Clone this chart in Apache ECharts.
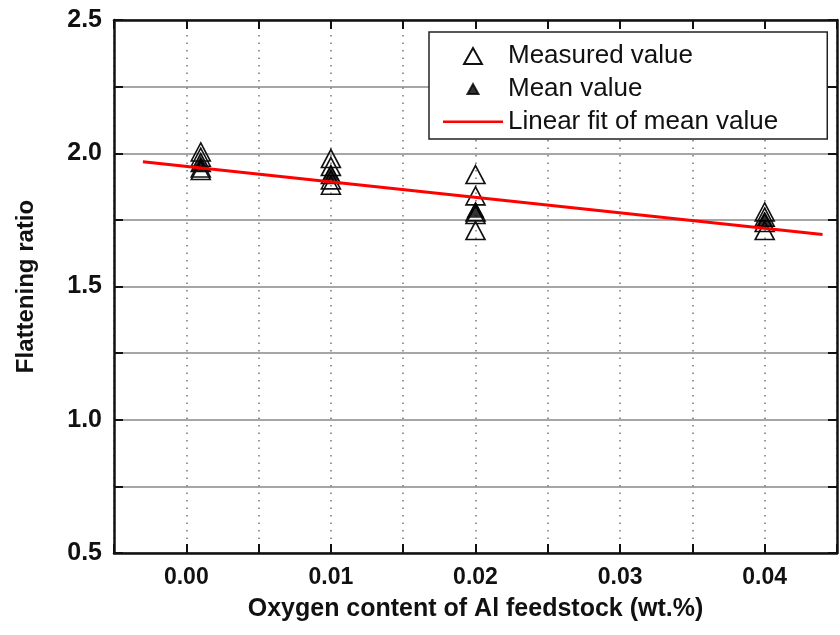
<!DOCTYPE html>
<html>
<head>
<meta charset="utf-8">
<script src="https://cdn.jsdelivr.net/npm/echarts@6/dist/echarts.min.js"></script>
<style>
html,body{margin:0;padding:0;background:#fff;}
#chart{width:840px;height:635px;}
</style>
</head>
<body>
<div id="chart"></div>
<script>
// Measured values (hollow triangles)
const measuredX = [0.001, 0.001, 0.001, 0.001, 0.001,
                   0.01, 0.01, 0.01, 0.01, 0.01,
                   0.02, 0.02, 0.02, 0.02, 0.02,
                   0.04, 0.04, 0.04, 0.04];
const measuredY = [2.005, 1.985, 1.965, 1.945, 1.935,
                   1.98, 1.95, 1.92, 1.90, 1.88,
                   1.92, 1.84, 1.78, 1.77, 1.71,
                   1.78, 1.76, 1.74, 1.71];
// Mean values (filled triangles)
const meanX = [0.001, 0.01, 0.02, 0.04];
const meanY = [1.962, 1.926, 1.787, 1.752];
// Linear fit of mean value (end points)
const fitX = [-0.003, 0.044];
const fitY = [1.968, 1.695];

const legendNames = ['Measured value', 'Mean value', 'Linear fit of mean value'];
const xTitle = 'Oxygen content of Al feedstock (wt.%)';
const yTitle = 'Flattening ratio';

const FONT = '"Liberation Sans", Arial, Helvetica, sans-serif';

const chart = echarts.init(document.getElementById('chart'), null, {renderer: 'canvas'});

function zip(a, b) { return a.map((v, i) => [v, b[i]]); }

const xLabelFmt = v => {
  const k = v * 100;
  return Math.abs(k - Math.round(k)) < 1e-6 ? v.toFixed(2) : '';
};
const yLabelFmt = v => {
  const k = v * 2;
  return Math.abs(k - Math.round(k)) < 1e-6 ? v.toFixed(1) : '';
};

const axisLineStyle = {color: '#111', width: 2.5};
const tickStyle = {color: '#111', width: 2};

const option = {
  backgroundColor: '#fff',
  animation: false,
  grid: {left: 114, right: 2, top: 20, bottom: 82, containLabel: false},
  legend: {
    data: [
      {name: legendNames[0], icon: 'path://M0,0M60,0M60,16M0,16M20.5,16.5L30,-0.5L39.5,16.5Z'},
      {name: legendNames[1], icon: 'path://M0,0M60,0M60,16M0,16M24.5,13L30,3L35.5,13Z'},
      {name: legendNames[2], icon: 'path://M0,0M60,0M60,16M0,16M0,6.5L60,6.5L60,9L0,9Z'}
    ],
    orient: 'vertical',
    left: 429,
    top: 32,
    itemWidth: 60,
    itemHeight: 16,
    itemGap: 7,
    padding: [11, 49, 4, 13],
    borderColor: '#222',
    borderWidth: 1.5,
    backgroundColor: '#fff',
    textStyle: {fontFamily: FONT, fontSize: 26, color: '#111', lineHeight: 26},
    z: 10
  },
  xAxis: [{
    type: 'value',
    position: 'bottom',
    min: -0.005, max: 0.045, interval: 0.005,
    name: xTitle,
    nameLocation: 'middle',
    nameGap: 44,
    nameTextStyle: {fontFamily: FONT, fontSize: 25, fontWeight: 'bold', color: '#111'},
    axisLine: {show: true, onZero: false, lineStyle: axisLineStyle},
    axisTick: {show: true, inside: true, length: 9, lineStyle: tickStyle},
    axisLabel: {formatter: xLabelFmt, margin: 13, fontFamily: FONT, fontSize: 23, fontWeight: 'bold', color: '#111'},
    splitLine: {show: true, lineStyle: {color: '#777', width: 1.5, type: [1.5, 6]}}
  }, {
    type: 'value',
    position: 'top',
    min: -0.005, max: 0.045, interval: 0.005,
    axisLine: {show: true, onZero: false, lineStyle: axisLineStyle},
    axisTick: {show: true, inside: true, length: 9, lineStyle: tickStyle},
    axisLabel: {show: false},
    splitLine: {show: false}
  }],
  yAxis: [{
    type: 'value',
    position: 'left',
    min: 0.5, max: 2.5, interval: 0.25,
    name: yTitle,
    nameLocation: 'middle',
    nameGap: 76,
    nameTextStyle: {fontFamily: FONT, fontSize: 24, fontWeight: 'bold', color: '#111'},
    axisLine: {show: true, onZero: false, lineStyle: axisLineStyle},
    axisTick: {show: true, inside: true, length: 9, lineStyle: tickStyle},
    axisLabel: {formatter: yLabelFmt, margin: 12, fontFamily: FONT, fontSize: 25, fontWeight: 'bold', color: '#111'},
    splitLine: {show: true, lineStyle: {color: '#888', width: 1.5, type: 'solid'}}
  }, {
    type: 'value',
    position: 'right',
    min: 0.5, max: 2.5, interval: 0.25,
    axisLine: {show: true, onZero: false, lineStyle: axisLineStyle},
    axisTick: {show: true, inside: true, length: 9, lineStyle: tickStyle},
    axisLabel: {show: false},
    splitLine: {show: false}
  }],
  series: [{
    name: legendNames[0],
    type: 'scatter',
    xAxisIndex: 0, yAxisIndex: 0,
    data: zip(measuredX, measuredY),
    symbol: 'triangle',
    symbolSize: [19, 18],
    itemStyle: {color: 'rgba(255,255,255,0)', borderColor: '#111', borderWidth: 1.6, opacity: 1},
    z: 2
  }, {
    name: legendNames[1],
    type: 'scatter',
    xAxisIndex: 0, yAxisIndex: 0,
    data: zip(meanX, meanY),
    symbol: 'triangle',
    symbolSize: [17, 15],
    itemStyle: {color: '#000', borderColor: '#000', borderWidth: 0.5},
    z: 3
  }, {
    name: legendNames[2],
    type: 'line',
    xAxisIndex: 0, yAxisIndex: 0,
    data: zip(fitX, fitY),
    showSymbol: false,
    symbol: 'none',
    lineStyle: {color: '#ff0000', width: 3},
    itemStyle: {color: '#ff0000'},
    z: 4
  }]
};

chart.setOption(option);
</script>
</body>
</html>
